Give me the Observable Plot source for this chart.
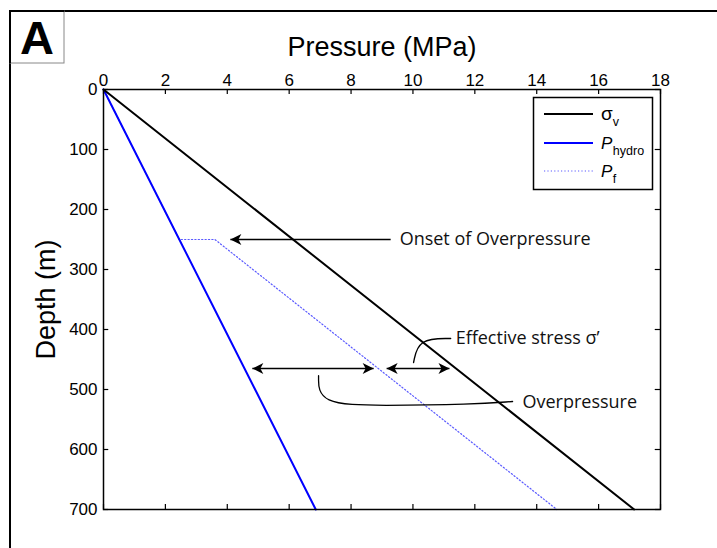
<!DOCTYPE html>
<html>
<head>
<meta charset="utf-8">
<script src="https://cdn.jsdelivr.net/npm/d3@7"></script>
<script src="https://cdn.jsdelivr.net/npm/@observablehq/plot@0.6"></script>
<style>
  html, body { margin: 0; padding: 0; background: #fff; overflow: hidden; }
  #chart { position: relative; width: 717px; height: 548px; }
</style>
</head>
<body>
<div id="chart"></div>
<script>
// Pressure–depth profile: depth in metres, pressure in MPa
const depthEnds = [0, 700];
const verticalStress = [0, 17.15];          // σv
const hydrostatic = [0, 6.86];              // P hydro
const fluidDepths = [0, 250, 250, 700];
const fluidPressure = [0, 2.45, 3.6, 14.65]; // Pf

const pressureTicks = [0, 2, 4, 6, 8, 10, 12, 14, 16, 18];
const depthTicks = [0, 100, 200, 300, 400, 500, 600, 700];

// Annotation arrows (depth, tail, tip, double-headed?)
const arrowDepths = [250, 465, 465];
const arrowStarts = [9.28, 4.81, 9.15];
const arrowEnds = [4.10, 8.73, 11.18];
const arrowDouble = [false, true, true];

// Annotation labels
const labelTexts = ["Onset of Overpressure", "Effective stress σ’", "Overpressure"];
const labelX = [9.57, 11.38, 13.54];
const labelDepth = [250, 415, 522];

// Leader curves (spline control points: pressure, depth)
const leaderEffective = [[10.02, 455], [10.18, 415], [11.22, 415]];
const leaderOver = [[6.95, 477], [6.95, 525], [9.0, 527], [11.9, 525], [13.22, 520]];

// Series tables
const sigmaRows = depthEnds.map((d, i) => ({depth: d, p: verticalStress[i]}));
const hydroRows = depthEnds.map((d, i) => ({depth: d, p: hydrostatic[i]}));
const fluidRows = fluidDepths.map((d, i) => ({depth: d, p: fluidPressure[i]}));

const shafts = arrowDepths.map((d, i) => ({depth: d, x1: arrowStarts[i], x2: arrowEnds[i]}));
const heads = [];
arrowDepths.forEach((d, i) => {
  const dir = arrowEnds[i] > arrowStarts[i] ? 90 : -90;
  heads.push({x: arrowEnds[i], depth: d, rot: dir});
  if (arrowDouble[i]) heads.push({x: arrowStarts[i], depth: d, rot: -dir});
});
const leaders = [
  ...leaderEffective.map(([p, d]) => ({p, depth: d, k: "eff"})),
  ...leaderOver.map(([p, d]) => ({p, depth: d, k: "over"}))
];

// Filled barbed arrowhead, tip at the origin, pointing up
const dart = {
  draw(ctx) {
    ctx.moveTo(0, 0);
    ctx.lineTo(5.5, 11);
    ctx.lineTo(0, 8);
    ctx.lineTo(-5.5, 11);
    ctx.closePath();
  }
};

const annFont = "'Open Sans', sans-serif";

const chart = Plot.plot({
  width: 717,
  height: 548,
  marginLeft: 103,
  marginRight: 57,
  marginTop: 89,
  marginBottom: 39,
  style: {fontFamily: "'Liberation Sans', Arial, sans-serif", fontSize: "17px", background: "#fff", color: "#000"},
  x: {domain: [0, 18]},
  y: {domain: [0, 700], reverse: true},
  marks: [
    // axis labels and tick labels
    Plot.axisX(pressureTicks, {anchor: "top", tickSize: 0, tickPadding: 4, label: null, fontSize: 17}),
    Plot.axisY(depthTicks, {anchor: "left", tickSize: 0, tickPadding: 6, label: null, fontSize: 17}),
    // inward tick marks on all four sides
    Plot.ruleX(pressureTicks, {x: d => d, y1: 0, y2: 8.5, stroke: "#000", strokeWidth: 1.2}),
    Plot.ruleX(pressureTicks, {x: d => d, y1: 691.5, y2: 700, stroke: "#000", strokeWidth: 1.2}),
    Plot.ruleY(depthTicks, {y: d => d, x1: 0, x2: 0.17, stroke: "#000", strokeWidth: 1.2}),
    Plot.ruleY(depthTicks, {y: d => d, x1: 17.83, x2: 18, stroke: "#000", strokeWidth: 1.2}),
    Plot.text(["Pressure (MPa)"], {frameAnchor: "top", dy: -34, lineAnchor: "bottom", fontSize: 27}),
    Plot.text(["Depth (m)"], {frameAnchor: "left", dx: -57, rotate: -90, textAnchor: "middle", lineAnchor: "middle", fontSize: 27}),

    // pressure profiles
    Plot.line(fluidRows, {x: "p", y: "depth", stroke: "#5a5aff", strokeWidth: 1.2, strokeDasharray: "1.2,2.2"}),
    Plot.line(hydroRows, {x: "p", y: "depth", stroke: "#0000ff", strokeWidth: 2}),
    Plot.line(sigmaRows, {x: "p", y: "depth", stroke: "#000", strokeWidth: 2}),

    // annotations
    Plot.link(shafts, {x1: "x1", x2: "x2", y1: "depth", y2: "depth", stroke: "#000", strokeWidth: 1.3}),
    Plot.dot(heads, {x: "x", y: "depth", rotate: "rot", symbol: dart, fill: "#000", stroke: "none"}),
    Plot.line(leaders, {x: "p", y: "depth", z: "k", curve: "basis", stroke: "#000", strokeWidth: 1.3}),
    Plot.text(labelTexts, {
      x: (d, i) => labelX[i], y: (d, i) => labelDepth[i], text: d => d,
      textAnchor: "start", lineAnchor: "middle", fontFamily: annFont, fontSize: 18, fill: "#111"
    }),

    Plot.frame({stroke: "#000", strokeWidth: 1.5})
  ]
});

document.getElementById("chart").appendChild(chart);

// Panel border, panel letter and legend
const svg = d3.select(chart);

svg.append("path")
  .attr("d", "M10,548V11H717")
  .attr("fill", "none").attr("stroke", "#000").attr("stroke-width", 2);

svg.append("rect")
  .attr("x", 10).attr("y", 11).attr("width", 54).attr("height", 52)
  .attr("fill", "#fff").attr("stroke", "#888").attr("stroke-width", 1);
svg.append("path")
  .attr("d", "M10,63V11H64")
  .attr("fill", "none").attr("stroke", "#000").attr("stroke-width", 2);
svg.append("text")
  .attr("x", 37).attr("y", 54).attr("text-anchor", "middle")
  .attr("font-family", "'Liberation Sans', Arial, sans-serif")
  .attr("font-weight", "bold").attr("font-size", 47)
  .text("A");

const legend = svg.append("g")
  .attr("font-family", "'Liberation Sans', Arial, sans-serif")
  .attr("text-anchor", "start");
legend.append("rect")
  .attr("x", 533.5).attr("y", 97.5).attr("width", 119).attr("height", 92)
  .attr("fill", "#fff").attr("stroke", "#000").attr("stroke-width", 1.5);

const legendItems = [
  {y: 114, stroke: "#000", width: 2, dash: null, sym: "σ", italic: false, sub: "v"},
  {y: 143, stroke: "#0000ff", width: 2, dash: null, sym: "P", italic: true, sub: "hydro"},
  {y: 171, stroke: "#5a5aff", width: 1.2, dash: "1.2,2.2", sym: "P", italic: true, sub: "f"}
];
legendItems.forEach(it => {
  legend.append("line")
    .attr("x1", 544).attr("x2", 593).attr("y1", it.y).attr("y2", it.y)
    .attr("stroke", it.stroke).attr("stroke-width", it.width)
    .attr("stroke-dasharray", it.dash);
  const t = legend.append("text").attr("x", 601).attr("y", it.y + 5.5).attr("text-anchor", "start");
  t.append("tspan")
    .attr("font-size", it.italic ? 17 : 19)
    .attr("font-style", it.italic ? "italic" : "normal")
    .text(it.sym);
  t.append("tspan")
    .attr("font-size", 12.5)
    .attr("dy", 6)
    .attr("dx", it.italic ? 0.5 : 0)
    .text(it.sub);
});
</script>
</body>
</html>
